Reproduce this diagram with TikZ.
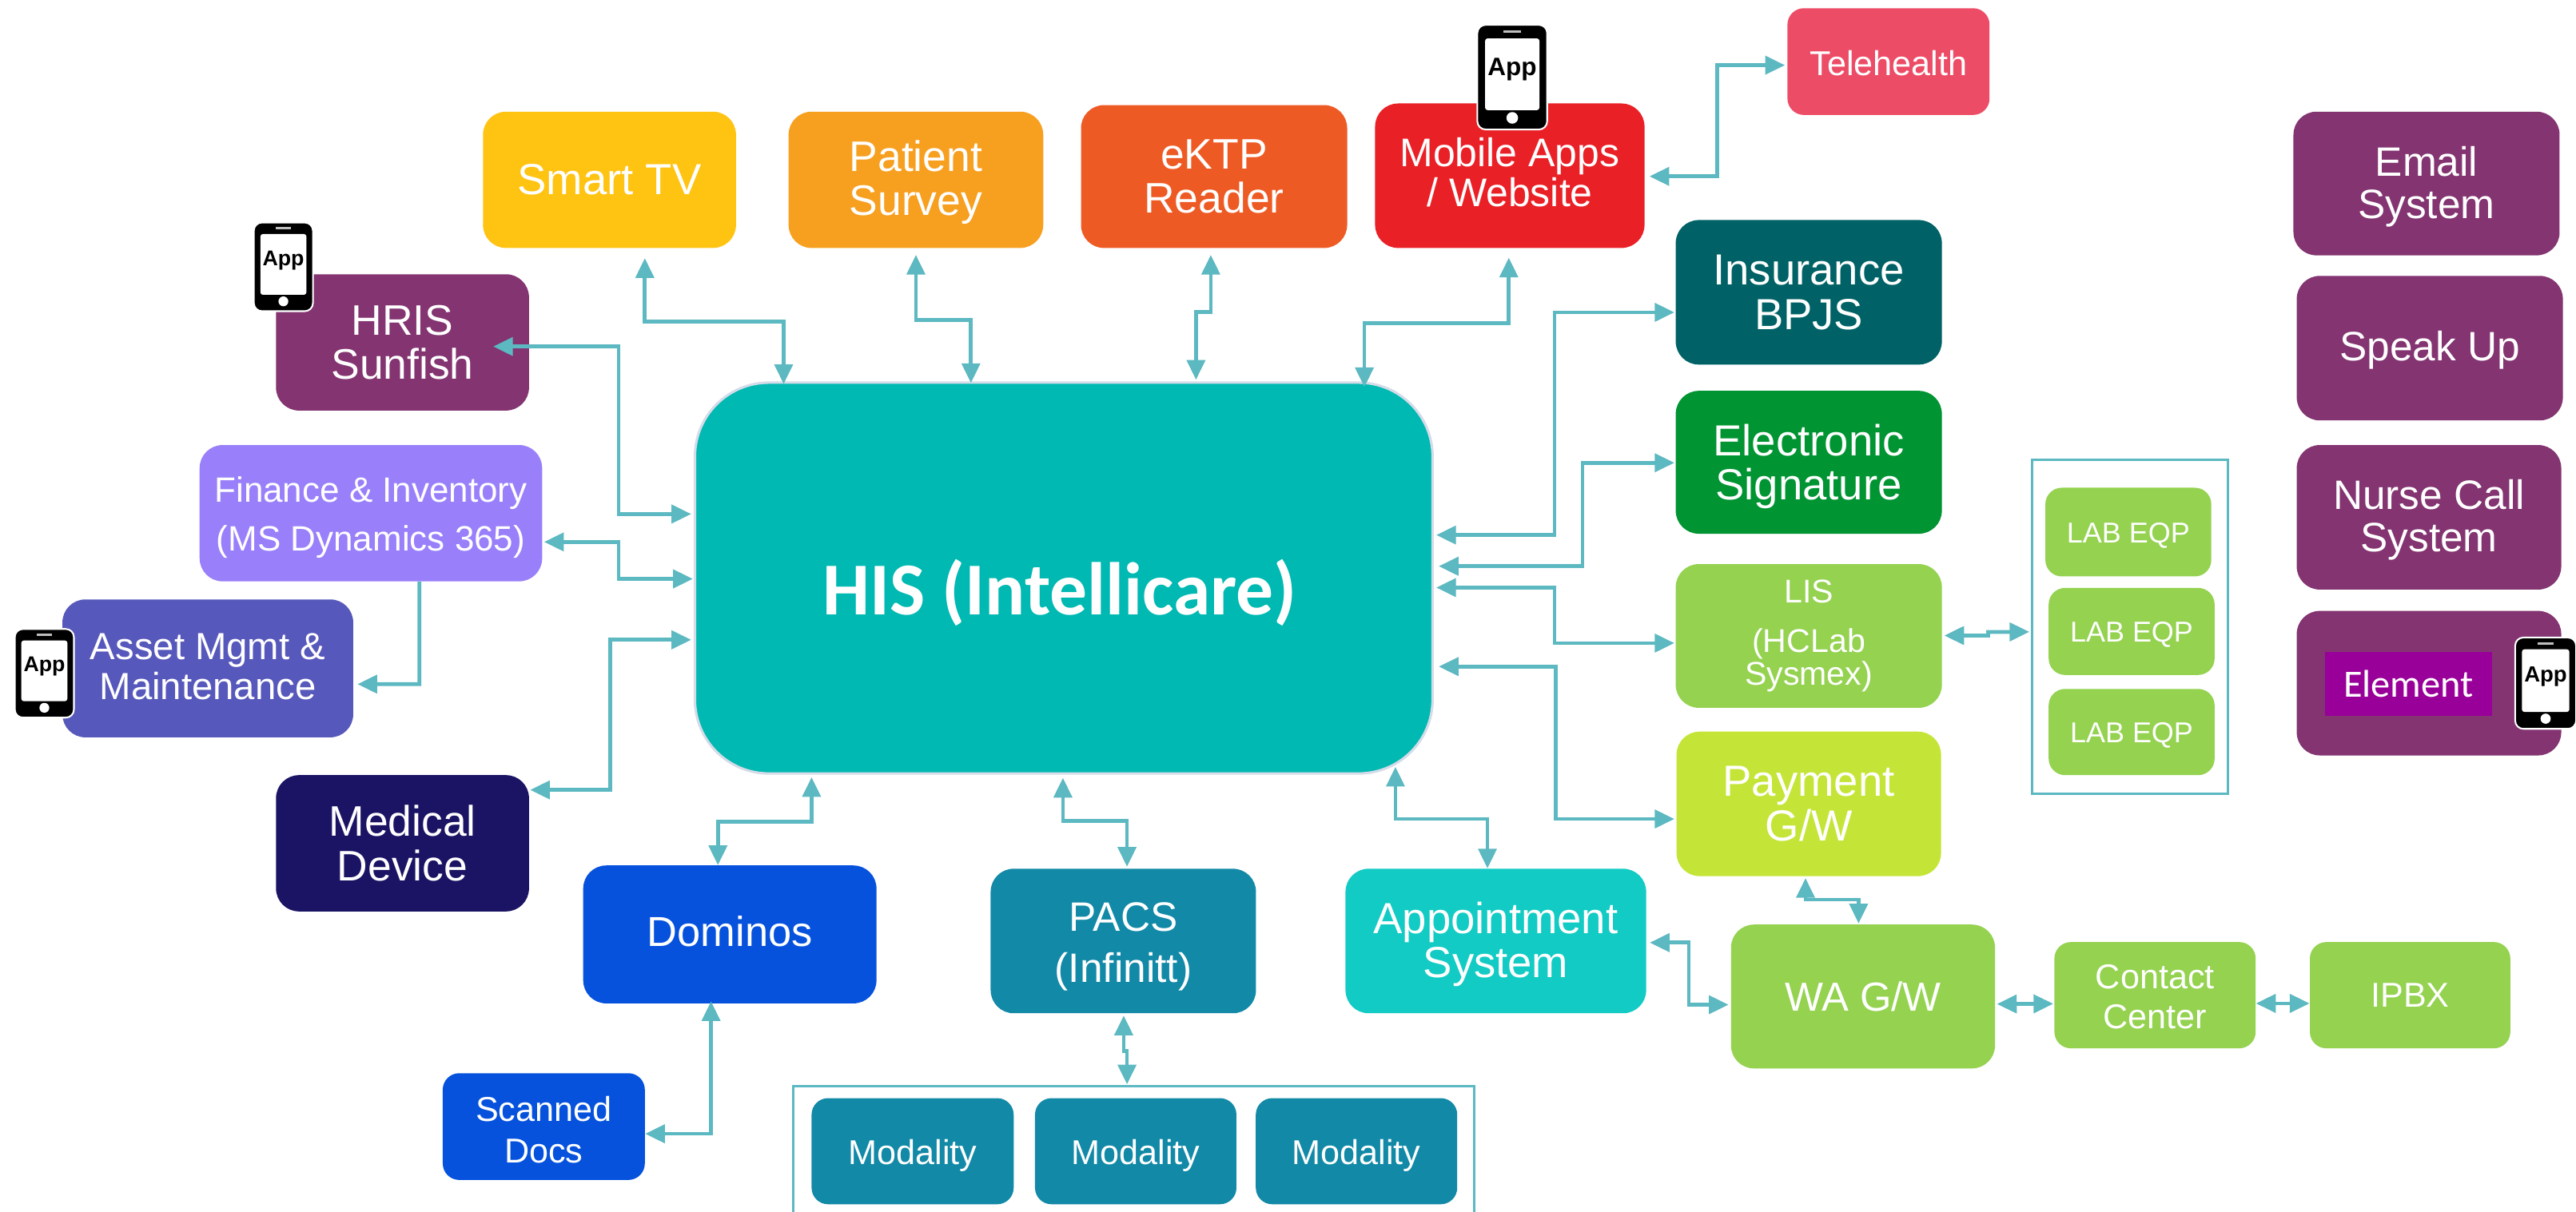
\documentclass[tikz,border=0pt]{standalone}
\usepackage{fontspec}
\setmainfont{Liberation Sans}
\newfontfamily\carlito{Carlito}
\usetikzlibrary{arrows.meta}
\definecolor{cTV}{HTML}{FFC312}
\definecolor{cSurvey}{HTML}{F79F1F}
\definecolor{cEktp}{HTML}{EE5A24}
\definecolor{cMobile}{HTML}{EA2027}
\definecolor{cTele}{HTML}{ED4C67}
\definecolor{cPlum}{HTML}{833471}
\definecolor{cFin}{HTML}{9980FA}
\definecolor{cAsset}{HTML}{5758BB}
\definecolor{cMed}{HTML}{1B1464}
\definecolor{cDom}{HTML}{0652DD}
\definecolor{cPacs}{HTML}{1289A7}
\definecolor{cAppt}{HTML}{12CBC4}
\definecolor{cIns}{HTML}{006266}
\definecolor{cSig}{HTML}{009432}
\definecolor{cLime}{HTML}{94D250}
\definecolor{cPay}{HTML}{C4E538}
\definecolor{cHis}{HTML}{00B9B2}
\definecolor{cLink}{HTML}{5CB8C1}
\definecolor{cTag}{HTML}{990099}
\definecolor{cHalo}{HTML}{D5DCE8}
\newcommand{\fsz}[2]{\fontsize{#1}{#2}\selectfont}
% moves a line of text down by #1 without changing the size of its box
\newcommand{\dn}[2]{\raisebox{-#1pt}[\height][\depth]{#2}}
\tikzset{
  bx/.style={rounded corners=14pt,fill=#1,inner sep=0pt,text=white,align=center},
  smallbx/.style={bx=#1,rounded corners=10pt},
  link/.style={draw=cLink,line width=2.3pt,{Triangle[length=12pt,width=11pt]}-{Triangle[length=12pt,width=11pt]}},
  linkone/.style={draw=cLink,line width=2.3pt,-{Triangle[length=12pt,width=11pt]}},
  frame/.style={draw=cLink,line width=1.5pt,inner sep=0pt},
}
% phone: name, centre x, centre y, scale
\newcommand{\appphone}[4]{%
  \begin{scope}[shift={(#2,#3)},scale=#4]
    \node[draw=white,line width=1pt,fill=black,rounded corners=5pt,minimum width=36pt,minimum height=54pt,inner sep=0pt,transform shape] (#1) at (0,0) {};
    \node[fill=white,rounded corners=1.5pt,minimum width=28pt,minimum height=37pt,inner sep=0pt,transform shape] (#1screen) at (0,-1.5) {};
    \node[fill=white,circle,minimum size=6pt,inner sep=0pt,transform shape] (#1btn) at (0,21) {};
    \node[fill=white!75!black,minimum width=9pt,minimum height=1.2pt,inner sep=0pt,transform shape] (#1spk) at (0,-23.5) {};
    \node[inner sep=0pt,font=\fsz{13}{14}\bfseries,text=black,transform shape] (#1txt) at (0,-4) {App};
  \end{scope}}
\begin{document}
\begin{tikzpicture}[x=1pt,y=-1pt]
\useasboundingbox[fill=white] (0,0) rectangle (1568,737.6);
% top row
\node[bx=cTV,font=\fsz{26.5}{27},minimum width=154,minimum height=83] (tv) at (371,109.5) {Smart TV};
\node[bx=cSurvey,font=\fsz{26}{27},minimum width=155,minimum height=83] (survey) at (557.5,109.5) {\dn{1.5}{Patient}\\\dn{1.5}{Survey}};
\node[bx=cEktp,font=\fsz{26}{27},minimum width=162,minimum height=87] (ektp) at (739,107.5) {eKTP\\Reader};
\node[bx=cMobile,font=\fsz{24.3}{24.5},minimum width=164,minimum height=88] (mobile) at (919,107) {\dn{-2}{Mobile Apps}\\\dn{-2}{/ Website}};
\node[smallbx=cTele,font=\fsz{21}{22},minimum width=123,minimum height=65] (tele) at (1149.5,37.5) {\dn{1}{Telehealth}};
% left column
\node[bx=cPlum,font=\fsz{26}{27},minimum width=154,minimum height=83] (hris) at (245,208.5) {HRIS\\Sunfish};
\node[bx=cFin,font=\fsz{21.4}{30},minimum width=208.5,minimum height=83] (fin) at (225.75,312.5) {\dn{2.5}{Finance \& Inventory}\\\dn{2.5}{(MS Dynamics 365)}};
\node[bx=cAsset,font=\fsz{23}{24},minimum width=177,minimum height=84] (asset) at (126.5,407) {\dn{-1}{Asset Mgmt \&}\\\dn{-1}{Maintenance}};
\node[bx=cMed,font=\fsz{26}{27},minimum width=154,minimum height=83] (med) at (245,513.5) {Medical\\Device};
% bottom row
\node[bx=cDom,font=\fsz{25.5}{27},minimum width=178.5,minimum height=84] (dom) at (444.25,569) {\dn{-2}{Dominos}};
\node[smallbx=cDom,font=\fsz{21}{25},minimum width=123,minimum height=65] (scan) at (331,686) {\dn{2}{Scanned}\\\dn{2}{Docs}};
\node[bx=cPacs,font=\fsz{25}{31},minimum width=161.5,minimum height=88] (pacs) at (683.75,573) {\dn{3.5}{PACS}\\\dn{3.5}{(Infinitt)}};
\node[bx=cAppt,font=\fsz{26.5}{27},minimum width=183,minimum height=88] (appt) at (910.5,573) {\dn{2}{Appointment}\\\dn{2}{System}};
\node[inner sep=0pt,minimum width=414,minimum height=76.1] (modbox) at (690,699.55) {};
\draw[draw=cLink,line width=1.5pt] (modbox.south west) -- (modbox.north west) -- (modbox.north east) -- (modbox.south east);
\node[smallbx=cPacs,font=\fsz{21}{22},minimum width=123,minimum height=64.6] (moda) at (555.5,701) {\dn{2.5}{Modality}};
\node[smallbx=cPacs,font=\fsz{21}{22},minimum width=122.6,minimum height=64.6] (modb) at (691.3,701) {\dn{2.5}{Modality}};
\node[smallbx=cPacs,font=\fsz{21}{22},minimum width=122.6,minimum height=64.6] (modc) at (825.7,701) {\dn{2.5}{Modality}};
% right column
\node[bx=cIns,font=\fsz{26.5}{27},minimum width=162,minimum height=88] (ins) at (1101,178) {Insurance\\BPJS};
\node[bx=cSig,font=\fsz{26.5}{27},minimum width=162,minimum height=87] (sig) at (1101,281.5) {\dn{2.5}{Electronic}\\\dn{2.5}{Signature}};
\node[bx=cLime,font=\fsz{20}{20},minimum width=162,minimum height=87.5] (lis) at (1101,387.25) {LIS\\[10pt](HCLab\\Sysmex)};
\node[bx=cPay,font=\fsz{26.5}{27},minimum width=161,minimum height=88] (pay) at (1101,489.5) {Payment\\G/W};
\node[bx=cLime,font=\fsz{24.7}{26},minimum width=160.7,minimum height=87.6] (wa) at (1134,606.8) {WA G/W};
\node[smallbx=cLime,font=\fsz{21}{24.5},minimum width=122.5,minimum height=64.7] (cc) at (1311.75,606) {\dn{1}{Contact}\\\dn{1}{Center}};
\node[smallbx=cLime,font=\fsz{21}{22},minimum width=122,minimum height=64.7] (ipbx) at (1467,606) {IPBX};
% lab group
\node[frame,minimum width=119,minimum height=203.5] (labbox) at (1296.5,381.75) {};
\node[smallbx=cLime,font=\fsz{17.5}{18},minimum width=101,minimum height=54] (laba) at (1295.5,324) {\dn{2}{LAB EQP}};
\node[smallbx=cLime,font=\fsz{17.5}{18},minimum width=101,minimum height=53] (labb) at (1297.5,384.5) {\dn{2}{LAB EQP}};
\node[smallbx=cLime,font=\fsz{17.5}{18},minimum width=101,minimum height=52.5] (labc) at (1297.5,445.75) {\dn{2}{LAB EQP}};
% far right
\node[bx=cPlum,font=\fsz{25}{25.5},minimum width=162,minimum height=87.5] (mail) at (1477,111.75) {\dn{2}{Email}\\\dn{2}{System}};
\node[bx=cPlum,font=\fsz{25}{25.5},minimum width=162,minimum height=88] (speak) at (1479,212) {\dn{1}{Speak Up}};
\node[bx=cPlum,font=\fsz{25}{25.5},minimum width=161,minimum height=88] (nurse) at (1478.5,315) {\dn{1.5}{Nurse Call}\\\dn{1.5}{System}};
\node[bx=cPlum,minimum width=161,minimum height=88] (elem) at (1478.5,416) {};
\node[fill=cTag,text=white,inner sep=0pt,font=\carlito\fsz{23.5}{25},minimum width=102,minimum height=39] (elemtag) at (1466,416.5) {Element};
% centre
\node[draw=cHalo,line width=1.5pt,fill=cHis,rounded corners=45pt,inner sep=0pt,minimum width=449,minimum height=238] (his) at (647.5,352) {};
\node[inner sep=0pt,text=white,font=\carlito\bfseries\fsz{45.5}{47}] (histxt) at (645,361) {HIS (Intellicare)};
% connectors
\draw[link] ([shift={(21.5,6)}]tv.south) -- (392.5,195.7) -- (477,195.7) -- ([shift={(-170.5,1.6)}]his.north);
\draw[link] ([shift={(0,4)}]survey.south) -- (557.5,195) -- (591,195) -- ([shift={(-56.5,1)}]his.north);
\draw[link] ([shift={(-2,4)}]ektp.south) -- (737,190) -- (728,190) -- ([shift={(80.5,-1)}]his.north);
\draw[link] ([shift={(-0.6,5.7)}]mobile.south) -- (918.4,196.7) -- (830.5,196.7) -- ([shift={(183,3.5)}]his.north);
\draw[link] ([shift={(2.8,0.4)}]mobile.east) -- (1045.2,107.4) -- (1045.2,39.7) -- ([shift={(-1.3,2.2)}]tele.west);
\draw[link] ([shift={(-22,2.5)}]hris.east) -- (376.5,211) -- (376.5,313) -- ([shift={(-1.5,-39)}]his.west);
\draw[link] ([shift={(1,17.5)}]fin.east) -- (376.5,330) -- (376.5,352.5) -- ([shift={(-0.5,0.5)}]his.west);
\draw[linkone] ([shift={(29.5,0)}]fin.south) -- (255.3,416.6) -- ([shift={(2.4,9.6)}]asset.east);
\draw[link] ([shift={(0.5,-32.5)}]med.east) -- (371.3,481) -- (371.3,389.6) -- ([shift={(-1.5,37.6)}]his.west);
\draw[link] ([shift={(-153.5,1.5)}]his.south) -- (494,500.4) -- (437,500.4) -- ([shift={(-7.25,0)}]dom.north);
\draw[link] ([shift={(0,4.4)}]scan.east) -- (432.8,690.4) -- ([shift={(-11.45,-1.5)}]dom.south);
\draw[link] ([shift={(-0.5,1.9)}]his.south) -- (647,500) -- (686,500) -- ([shift={(2.25,-1)}]pacs.north);
\draw[link] ([shift={(201.9,-4.8)}]his.south) -- (849.4,498.7) -- (905.4,498.7) -- ([shift={(-5.1,0)}]appt.north);
\draw[link] ([shift={(1.5,-26.2)}]his.east) -- (946.2,325.8) -- (946.2,190.2) -- ([shift={(-0.6,12.2)}]ins.west);
\draw[link] ([shift={(3,-7.2)}]his.east) -- (963.3,344.8) -- (963.3,281.8) -- ([shift={(-0.6,0.3)}]sig.west);
\draw[link] ([shift={(1.5,5.8)}]his.east) -- (946.2,357.8) -- (946.2,391.6) -- ([shift={(-0.6,4.35)}]lis.west);
\draw[link] ([shift={(3,53.9)}]his.east) -- (947,405.9) -- (947,498.7) -- ([shift={(-1.1,9.2)}]pay.west);
\draw[link] ([shift={(1.3,-0.25)}]lis.east) -- (1210.2,387) -- (1210.2,384.8) -- ([shift={(-1,3)}]labbox.west);
\draw[link] ([shift={(-2,1)}]pay.south) -- (1099,547.8) -- (1131.3,547.8) -- ([shift={(-2.7,-0.5)}]wa.north);
\draw[link] ([shift={(2,1)}]appt.east) -- (1028,574) -- (1028,611.8) -- ([shift={(-1.3,5)}]wa.west);
\draw[link] ([shift={(1,4.6)}]wa.east) -- ([shift={(-0.5,5.2)}]cc.west);
\draw[link] ([shift={(0,5)}]cc.east) -- ([shift={(0,5)}]ipbx.west);
\draw[link] ([shift={(0.25,1.2)}]pacs.south) -- (684,640) -- (686,640) -- ([shift={(-4,-1)}]modbox.north);
% phones
\appphone{phoneh}{172.5}{162.5}{1}
\appphone{phonem}{920.5}{47}{1.18}
\appphone{phonea}{27}{410}{1}
\appphone{phonee}{1549.5}{416}{1.03}
\end{tikzpicture}
\end{document}
